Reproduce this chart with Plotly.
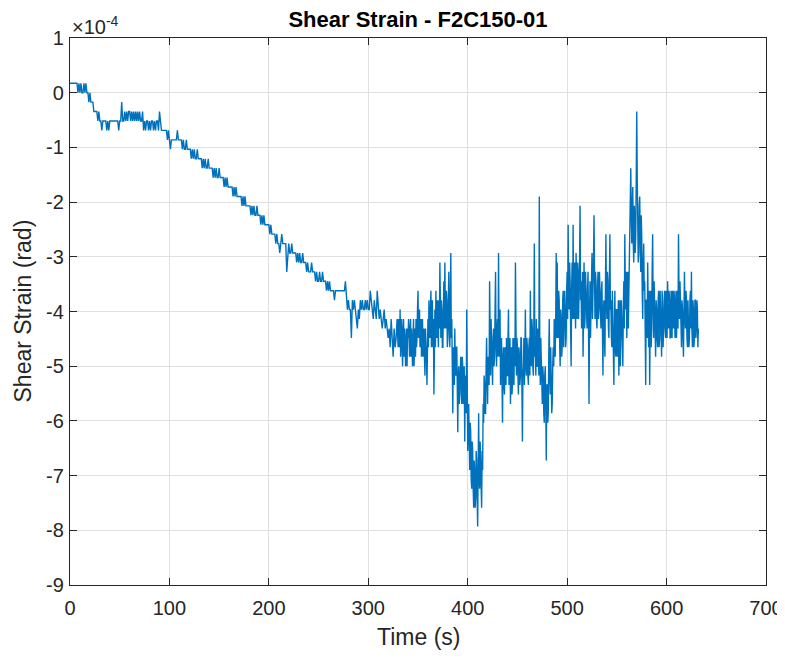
import numpy as np
import plotly.graph_objects as go

# ---- data ----
# Gauge output in counts; one count = COUNT_URAD micro-radians.
# Main readings: one per second from t = 0 s.
# Extra readings in the noisy stretch: one per second from t = 330.5 s.
COUNT_URAD = 17.24
SAMPLE_PERIOD_S = 1.0
EXTRA_START_S = 330.5

counts_000_099 = [
    1, 1, 1, 1, 1, 1, 1, 1, 0, 1,
    0, 1, 0, 0, 1, 0, 1, 0, 0, -1,
    0, -1, -1, -1, -2, -2, -2, -2, -3, -2,
    -3, -3, -4, -3, -3, -3, -3, -4, -3, -4,
    -3, -3, -3, -3, -3, -3, -3, -3, -3, -4,
    -3, -3, -1, -3, -3, -2, -3, -2, -3, -2,
    -2, -3, -2, -3, -2, -3, -2, -3, -2, -3,
    -2, -3, -3, -2, -4, -3, -4, -3, -3, -4,
    -3, -4, -3, -3, -4, -3, -4, -3, -3, -4,
    -2, -3, -4, -4, -4, -4, -4, -4, -5, -4,
]
counts_100_199 = [
    -5, -6, -5, -5, -5, -5, -5, -5, -4, -5,
    -5, -5, -5, -6, -5, -6, -6, -5, -6, -6,
    -6, -6, -7, -6, -7, -6, -7, -7, -6, -7,
    -7, -7, -7, -8, -7, -8, -7, -8, -8, -7,
    -8, -8, -8, -8, -9, -8, -9, -8, -9, -9,
    -8, -9, -9, -9, -9, -10, -9, -10, -9, -10,
    -10, -10, -10, -10, -11, -10, -11, -10, -11, -11,
    -11, -11, -11, -12, -11, -12, -11, -12, -12, -12,
    -12, -12, -13, -12, -13, -12, -13, -13, -12, -13,
    -13, -13, -14, -13, -14, -13, -14, -14, -14, -14,
]
counts_200_299 = [
    -14, -15, -14, -15, -15, -15, -15, -16, -15, -16,
    -16, -17, -16, -15, -16, -16, -16, -16, -19, -17,
    -16, -17, -17, -16, -17, -17, -17, -17, -18, -17,
    -18, -17, -18, -18, -17, -18, -18, -18, -19, -18,
    -19, -19, -19, -18, -19, -19, -19, -20, -19, -20,
    -20, -19, -20, -20, -19, -20, -20, -20, -21, -20,
    -21, -20, -21, -21, -21, -21, -22, -21, -21, -21,
    -21, -21, -21, -21, -21, -21, -21, -20, -22, -23,
    -22, -23, -23, -26, -22, -23, -22, -23, -24, -25,
    -23, -24, -22, -23, -22, -23, -23, -22, -23, -22,
]
counts_300_399 = [
    -23, -23, -21, -22, -23, -24, -22, -23, -24, -21,
    -23, -24, -23, -24, -25, -24, -23, -25, -24, -25,
    -26, -25, -27, -24, -26, -28, -25, -27, -26, -24,
    -27, -25, -23, -26, -27, -25, -28, -26, -27, -29,
    -26, -27, -25, -28, -27, -26, -29, -25, -24, -26,
    -21, -25, -27, -24, -26, -28, -25, -30, -26, -31,
    -24, -22, -26, -21, -25, -27, -32, -23, -21, -26,
    -24, -22, -18, -26, -23, -27, -20, -18, -25, -22,
    -26, -19, -27, -17, -24, -34, -28, -25, -30, -27,
    -36, -29, -31, -28, -33, -29, -32, -37, -30, -23,
]
counts_400_499 = [
    -38, -33, -40, -36, -42, -38, -44, -40, -43, -39,
    -46, -34, -42, -39, -44, -40, -35, -31, -34, -26,
    -33, -29, -20, -30, -27, -31, -25, -28, -19, -29,
    -24, -17, -28, -31, -26, -35, -27, -32, -28, -26,
    -30, -23, -29, -33, -27, -31, -28, -26, -18, -30,
    -27, -32, -28, -30, -26, -37, -29, -31, -23, -30,
    -27, -31, -26, -21, -29, -25, -30, -16, -27, -24,
    -29, -26, -11, -31, -28, -33, -30, -35, -29, -39,
    -31, -34, -24, -32, -29, -33, -27, -24, -28, -17,
    -18, -26, -22, -29, -24, -27, -21, -25, -23, -26,
]
counts_500_599 = [
    -19, -14, -23, -20, -29, -18, -14, -24, -21, -17,
    -24, -19, -22, -12, -20, -23, -28, -18, -24, -21,
    -25, -19, -33, -20, -23, -17, -22, -13, -24, -20,
    -25, -19, -23, -21, -25, -20, -30, -22, -28, -15,
    -24, -20, -26, -15, -22, -27, -24, -31, -21, -28,
    -23, -26, -30, -22, -27, -24, -29, -20, -15, -23,
    -26, -19, -22, -17, -8, -16, -10, -18, -13, -15,
    -2, -14, -17, -11, -19, -15, -24, -16, -20, -31,
    -22, -18, -27, -31, -21, -25, -15, -26, -22, -28,
    -23, -27, -21, -26, -24, -28, -22, -25, -21, -26,
]
counts_600_632 = [
    -23, -20, -25, -22, -26, -23, -21, -25, -22, -24,
    -26, -21, -15, -24, -22, -27, -23, -28, -19, -25,
    -22, -27, -24, -26, -21, -19, -27, -23, -26, -22,
    -25, -23, -25,
]

# extra readings at 330.5, 331.5, ... 631.5 s
counts_extra_330_429 = [
    -24, -27, -28, -24, -29, -24, -25, -29, -25, -25,
    -24, -28, -24, -25, -29, -24, -27, -28, -27, -23,
    -26, -23, -24, -28, -24, -26, -28, -25, -28, -25,
    -27, -25, -23, -27, -22, -24, -26, -27, -25, -22,
    -27, -25, -24, -22, -27, -23, -25, -23, -21, -27,
    -22, -25, -22, -26, -29, -27, -31, -29, -27, -31,
    -30, -33, -28, -32, -28, -33, -29, -31, -34, -30,
    -36, -38, -35, -41, -37, -42, -39, -44, -38, -43,
    -40, -41, -37, -43, -38, -33, -30, -34, -29, -30,
    -28, -31, -27, -24, -30, -26, -29, -23, -27, -25,
]
counts_extra_430_529 = [
    -28, -26, -23, -27, -31, -28, -31, -27, -31, -30,
    -26, -31, -26, -28, -32, -26, -31, -29, -27, -26,
    -30, -27, -31, -26, -31, -30, -26, -28, -29, -26,
    -30, -27, -30, -28, -24, -29, -25, -28, -30, -29,
    -25, -30, -27, -26, -32, -29, -34, -30, -33, -31,
    -35, -28, -30, -27, -34, -29, -29, -27, -24, -26,
    -25, -21, -27, -23, -28, -22, -27, -21, -27, -21,
    -24, -20, -18, -25, -21, -24, -22, -18, -25, -23,
    -18, -24, -18, -22, -25, -19, -22, -25, -19, -24,
    -21, -25, -24, -26, -19, -24, -18, -22, -19, -24,
]
counts_extra_530_631 = [
    -21, -24, -19, -25, -21, -25, -23, -26, -21, -22,
    -19, -25, -20, -23, -26, -21, -28, -25, -27, -23,
    -28, -22, -25, -29, -22, -28, -23, -25, -21, -19,
    -21, -25, -18, -14, -13, -12, -16, -12, -17, -9,
    -9, -18, -12, -16, -13, -21, -18, -21, -25, -22,
    -26, -23, -21, -25, -27, -19, -23, -20, -26, -22,
    -26, -22, -27, -21, -27, -21, -27, -22, -25, -21,
    -26, -24, -21, -26, -21, -26, -25, -21, -26, -21,
    -22, -25, -21, -20, -26, -22, -26, -23, -24, -21,
    -26, -22, -27, -22, -25, -25, -22, -27, -22, -26,
    -22, -27,
]

x_tick_values = [0, 100, 200, 300, 400, 500, 600, 700]
y_tick_values = [1, 0, -1, -2, -3, -4, -5, -6, -7, -8, -9]
y_tick_labels = ["1", "0", "-1", "-2", "-3", "-4", "-5", "-6", "-7", "-8", "-9"]

# ---- build series ----
main_counts = (counts_000_099 + counts_100_199 + counts_200_299 + counts_300_399
               + counts_400_499 + counts_500_599 + counts_600_632)
extra_counts = counts_extra_330_429 + counts_extra_430_529 + counts_extra_530_631
main_t = np.arange(len(main_counts)) * SAMPLE_PERIOD_S
extra_t = EXTRA_START_S + np.arange(len(extra_counts)) * SAMPLE_PERIOD_S

time_all = np.concatenate([main_t, extra_t])
counts_all = np.array(main_counts + extra_counts, dtype=float)
order = np.argsort(time_all, kind="stable")
time_s = time_all[order]
strain_e4 = counts_all[order] * COUNT_URAD / 100.0   # in units of 1e-4 rad

FONT = "Liberation Sans, Arial, Helvetica, sans-serif"
TXT = "#262626"
GRID = "#dfdfdf"

# page body has an 8 px margin; figure sized so the plot box lands at
# x 70..766, y 38..585 of the 785x659 window
OFF = 8
W, H = 785 - OFF, 659 - OFF
ML, MT = 70 - OFF, 38 - OFF
PW, PH = 696, 547
MR = W - ML - PW
MB = H - MT - PH

fig = go.Figure()
fig.add_trace(go.Scatter(
    x=time_s, y=strain_e4, mode="lines",
    line=dict(color="#0072BD", width=1.4),
    showlegend=False, hoverinfo="skip",
))

axis_common = dict(
    showline=True, linecolor=TXT, linewidth=1.3, mirror="ticks",
    ticks="inside", ticklen=7, tickwidth=1.3, tickcolor=TXT,
    showgrid=True, gridcolor=GRID, gridwidth=1, zeroline=False,
    tickfont=dict(family=FONT, size=20, color=TXT), automargin=False,
)

fig.update_layout(
    width=W, height=H,
    margin=dict(l=ML, r=MR, t=MT, b=MB, autoexpand=False),
    paper_bgcolor="white", plot_bgcolor="white",
    font=dict(family=FONT, color=TXT),
    title=dict(text="Shear Strain - F2C150-01", x=(ML + PW / 2) / W, xanchor="center",
               y=1 - (19 - OFF) / H, yanchor="middle", yref="container", automargin=False,
               font=dict(family=FONT, size=22, color="#000000", weight="bold")),
    xaxis=dict(range=[0, 700], tickvals=x_tick_values, ticklabelstandoff=5, **axis_common),
    yaxis=dict(range=[-9, 1], tickvals=y_tick_values, ticktext=y_tick_labels,
               ticklabelstandoff=1, **axis_common),
)

# axis titles (real text, placed like the reference)
fig.add_annotation(text="Time (s)", xref="paper", yref="paper", x=0.5,
                   y=-(637 - 585) / PH, xanchor="center", yanchor="middle", showarrow=False,
                   font=dict(family=FONT, size=23, color=TXT))
fig.add_annotation(text="Shear Strain (rad)", xref="paper", yref="paper",
                   x=(22 - 70) / PW, y=0.5, textangle=-90,
                   xanchor="center", yanchor="middle", showarrow=False,
                   font=dict(family=FONT, size=23, color=TXT))
# exponent label
fig.add_annotation(text="\u00d710<sup>-4</sup>", xref="paper", yref="paper", x=0.0, y=1.0,
                   xanchor="left", yanchor="bottom", showarrow=False, yshift=-2,
                   font=dict(family=FONT, size=20, color=TXT))

fig.write_html("out.html")
